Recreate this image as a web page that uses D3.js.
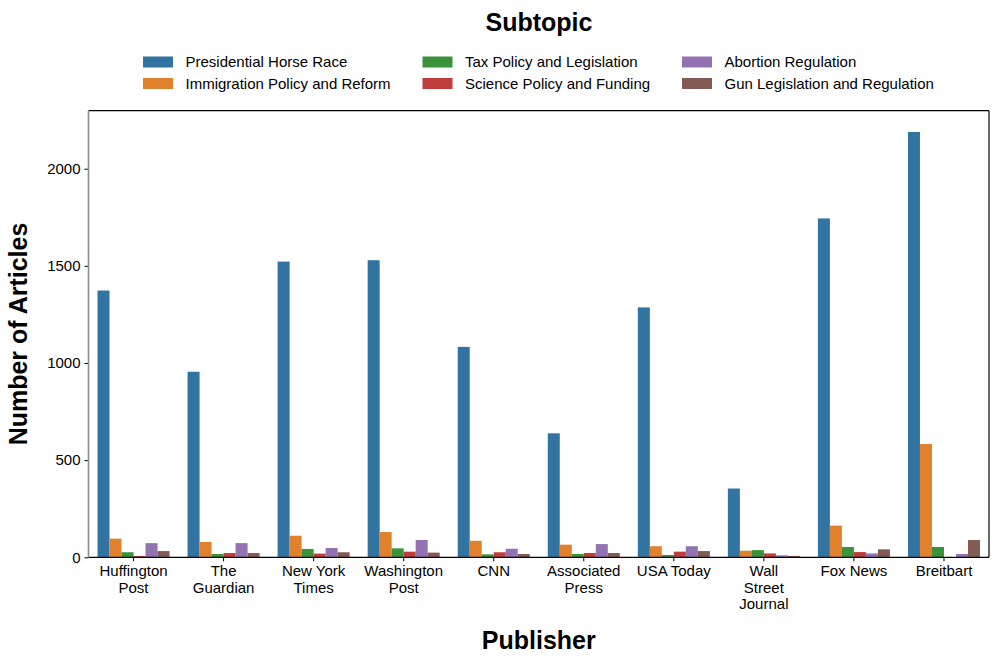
<!DOCTYPE html>
<html>
<head>
<meta charset="utf-8">
<script src="https://cdn.jsdelivr.net/npm/d3@7"></script>
<style>
  html, body { margin: 0; padding: 0; background: #fff; }
  svg { display: block; font-family: "Liberation Sans", Arial, Helvetica, sans-serif; }
</style>
</head>
<body>
<svg id="chart" width="997" height="661"></svg>
<script>
const publishers = ["Huffington Post", "The Guardian", "New York Times", "Washington Post", "CNN",
  "Associated Press", "USA Today", "Wall Street Journal", "Fox News", "Breitbart"];
const tickLabels = [["Huffington", "Post"], ["The", "Guardian"], ["New York", "Times"], ["Washington", "Post"], ["CNN"],
  ["Associated", "Press"], ["USA Today"], ["Wall", "Street", "Journal"], ["Fox News"], ["Breitbart"]];
const subtopics = ["Presidential Horse Race", "Immigration Policy and Reform", "Tax Policy and Legislation",
  "Science Policy and Funding", "Abortion Regulation", "Gun Legislation and Regulation"];
const colors = ["#3274a1", "#e1812c", "#3a923a", "#c03d3e", "#9372b2", "#845b53"];

const horseRace   = [1373, 955, 1522, 1529, 1083, 638, 1286, 354, 1744, 2189];
const immigration = [96, 79, 111, 130, 85, 65, 57, 34, 163, 583];
const tax         = [26, 17, 43, 46, 15, 17, 12, 37, 53, 53];
const science     = [7, 22, 19, 29, 26, 22, 29, 20, 27, 0];
const abortion    = [73, 73, 48, 89, 44, 68, 57, 10, 20, 17];
const gun         = [32, 22, 26, 24, 17, 22, 32, 7, 41, 89];
const yTicks = [0, 500, 1000, 1500, 2000];

const series = [horseRace, immigration, tax, science, abortion, gun];

(function () {
const svg = d3.select("#chart");
const pL = 88.5, pR = 989, pT = 110.7, pB = 557.3;
const fs = 15;
const yMax = d3.max(series.flat()) * 1.05;

const x = d3.scaleBand().domain(publishers).range([pL, pR]).padding(0);
const xInner = d3.scaleBand().domain(subtopics)
  .range([x.bandwidth() * 0.1, x.bandwidth() * 0.9]).padding(0);
const y = d3.scaleLinear().domain([0, yMax]).range([pB, pT]);

// bars
const data = [];
publishers.forEach((p, i) => {
  subtopics.forEach((s, j) => {
    data.push({ p, s, j, v: series[j][i] });
  });
});
svg.append("g").selectAll("rect").data(data).join("rect")
  .attr("x", d => x(d.p) + xInner(d.s))
  .attr("y", d => y(d.v))
  .attr("width", xInner.bandwidth())
  .attr("height", d => y(0) - y(d.v))
  .attr("fill", d => colors[d.j]);

// y axis
const yAxis = svg.append("g")
  .attr("transform", `translate(${pL},0)`)
  .call(d3.axisLeft(y).tickValues(yTicks).tickSize(4).tickPadding(4).tickFormat(d3.format("d")));
yAxis.select(".domain").remove();
yAxis.selectAll("text").attr("font-size", fs).attr("fill", "#000").attr("font-family", "Liberation Sans, Arial, sans-serif");
yAxis.selectAll("line").attr("stroke", "#000");

// x axis
const xAxis = svg.append("g")
  .attr("transform", `translate(0,${pB})`)
  .call(d3.axisBottom(x).tickSize(4).tickFormat(""));
xAxis.select(".domain").remove();
xAxis.selectAll("line").attr("stroke", "#000");
xAxis.selectAll(".tick").each(function (d, i) {
  const t = d3.select(this).append("text")
    .attr("fill", "#000").attr("font-size", fs).attr("text-anchor", "middle")
    .attr("font-family", "Liberation Sans, Arial, sans-serif");
  tickLabels[i].forEach((line, k) => {
    t.append("tspan").attr("x", 0).attr("y", 19 + k * 16.5).text(line);
  });
});

// spines
svg.append("line").attr("x1", pL).attr("x2", pR).attr("y1", pT).attr("y2", pT).attr("stroke", "#000").attr("stroke-width", 1.2);
svg.append("line").attr("x1", pR).attr("x2", pR).attr("y1", pT).attr("y2", pB).attr("stroke", "#000").attr("stroke-width", 1.2);
svg.append("line").attr("x1", pL).attr("x2", pR).attr("y1", pB).attr("y2", pB).attr("stroke", "#000").attr("stroke-width", 1.2);
svg.append("line").attr("x1", pL).attr("x2", pL).attr("y1", pT).attr("y2", pB).attr("stroke", "#8c8c8c").attr("stroke-width", 1.6);

// axis titles
svg.append("text").attr("x", (pL + pR) / 2).attr("y", 649)
  .attr("text-anchor", "middle").attr("font-weight", "bold").attr("font-size", 25).text("Publisher");
svg.append("text").attr("transform", `translate(27,${(pT + pB) / 2}) rotate(-90)`)
  .attr("text-anchor", "middle").attr("font-weight", "bold").attr("font-size", 25).text("Number of Articles");

// legend
svg.append("text").attr("x", 539).attr("y", 31).attr("text-anchor", "middle")
  .attr("font-weight", "bold").attr("font-size", 25).text("Subtopic");
const colX = [143, 422.5, 682];
const rowY = [62, 83.5];
subtopics.forEach((s, j) => {
  const col = Math.floor(j / 2), row = j % 2;
  const g = svg.append("g").attr("transform", `translate(${colX[col]},${rowY[row]})`);
  g.append("rect").attr("x", 0).attr("y", -5.5).attr("width", 30).attr("height", 11).attr("fill", colors[j]);
  g.append("text").attr("x", 42.5).attr("y", 5.3).attr("font-size", fs).attr("fill", "#000").text(s);
});
})();
</script>
</body>
</html>
